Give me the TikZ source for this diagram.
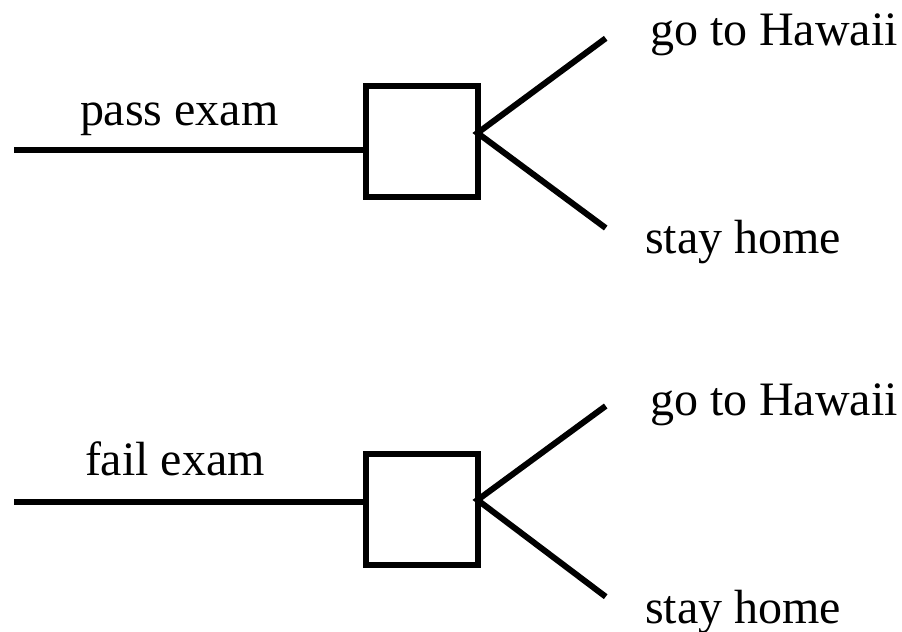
\documentclass[tikz,border=0pt]{standalone}
\usepackage{fontspec}
\setmainfont{Liberation Serif}
\begin{document}
\begin{tikzpicture}[x=0.5pt,y=-0.5pt,
  line width=3pt,
  decision/.style={draw, rectangle, minimum width=55.75pt, minimum height=55.75pt, inner sep=0pt, outer sep=0pt},
  lbl/.style={anchor=base west, inner sep=0pt, font=\fontsize{24pt}{28pt}\selectfont}]
  \useasboundingbox (0,0) rectangle (902,632);

  % upper tree: pass exam
  \node[decision] (box1) at (421.75,141.25) {};
  \coordinate (in1) at (14,150);
  \coordinate (v1) at (477.5,133);
  \coordinate (up1) at (605.7,38.3);
  \coordinate (dn1) at (605.7,228);
  \draw (in1) -- (in1 -| box1.west);
  \draw (up1) -- (v1) -- (dn1);
  \node[lbl] (pass) at (77,125.7) {pass exam};
  \node[lbl] (haw1) at (647,45.7) {go to Hawaii};
  \node[lbl] (home1) at (642,253.3) {stay home};

  % lower tree: fail exam
  \node[decision] (box2) at (421.75,509.25) {};
  \coordinate (in2) at (14,501.7);
  \coordinate (v2) at (477.5,500);
  \coordinate (up2) at (605.7,406);
  \coordinate (dn2) at (605.7,596.7);
  \draw (in2) -- (in2 -| box2.west);
  \draw (up2) -- (v2) -- (dn2);
  \node[lbl] (fail) at (82,475.7) {fail exam};
  \node[lbl] (haw2) at (647,415.7) {go to Hawaii};
  \node[lbl] (home2) at (642,623.3) {stay home};
\end{tikzpicture}
\end{document}
